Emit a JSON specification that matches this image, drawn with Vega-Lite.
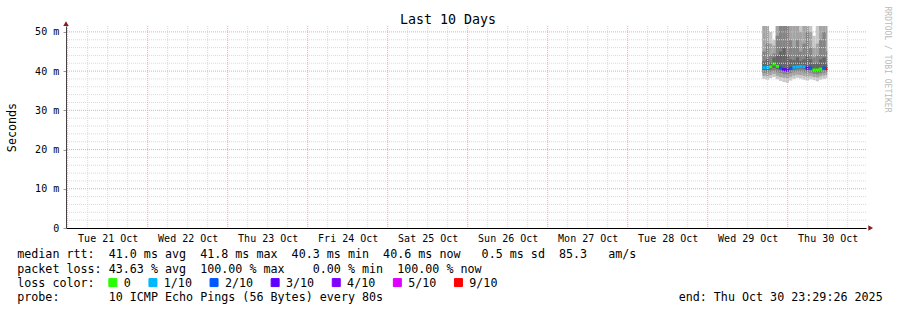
{
  "$schema": "https://vega.github.io/schema/vega-lite/v6.json",
  "width": 800,
  "height": 202,
  "autosize": {"type": "none"},
  "padding": {"left": 66, "top": 26, "right": 31, "bottom": 82},
  "background": "#ffffff",
  "view": {"stroke": null},
  "title": {"text": "Last 10 Days", "font": "DejaVu Sans Mono", "fontSize": 13.3, "fontWeight": "normal", "color": "#000000", "anchor": "middle", "frame": "group", "dx": -18, "offset": -31, "baseline": "alphabetic"},
  "datasets": {
    "smoke": [
      {"t0":"2025-10-29T16:24:00Z","t1":"2025-10-29T17:24:00Z","med":40.9,"loss":"1/10","p1":38.0,"p2":38.8,"p3":39.6,"p4":40.3,"p5":40.6,"p6":41.2,"p7":42.5,"p8":45,"p9":52,"p10":70},
      {"t0":"2025-10-29T17:24:00Z","t1":"2025-10-29T18:24:00Z","med":40.9,"loss":"1/10","p1":37.8,"p2":38.7,"p3":39.5,"p4":40.2,"p5":40.6,"p6":41.2,"p7":43,"p8":47,"p9":55,"p10":75},
      {"t0":"2025-10-29T18:24:00Z","t1":"2025-10-29T19:24:00Z","med":41.1,"loss":"0","p1":38.2,"p2":39.0,"p3":39.8,"p4":40.4,"p5":40.8,"p6":41.4,"p7":42.2,"p8":44,"p9":47,"p10":50},
      {"t0":"2025-10-29T19:24:00Z","t1":"2025-10-29T20:24:00Z","med":41.8,"loss":"0","p1":38.5,"p2":39.3,"p3":40.0,"p4":40.8,"p5":41.5,"p6":42.1,"p7":43.5,"p8":44.5,"p9":46.5,"p10":48},
      {"t0":"2025-10-29T20:24:00Z","t1":"2025-10-29T21:24:00Z","med":41.2,"loss":"0","p1":37.9,"p2":38.8,"p3":39.7,"p4":40.5,"p5":40.9,"p6":41.5,"p7":44,"p8":49,"p9":56,"p10":72},
      {"t0":"2025-10-29T21:24:00Z","t1":"2025-10-29T22:24:00Z","med":40.8,"loss":"2/10","p1":37.5,"p2":38.5,"p3":39.5,"p4":40.2,"p5":40.5,"p6":41.1,"p7":45,"p8":52,"p9":60,"p10":80},
      {"t0":"2025-10-29T22:24:00Z","t1":"2025-10-29T23:24:00Z","med":40.4,"loss":"3/10","p1":37.2,"p2":38.3,"p3":39.2,"p4":39.9,"p5":40.1,"p6":40.7,"p7":46,"p8":55,"p9":65,"p10":85},
      {"t0":"2025-10-29T23:24:00Z","t1":"2025-10-30T00:24:00Z","med":40.3,"loss":"3/10","p1":37.0,"p2":38.2,"p3":39.1,"p4":39.8,"p5":40.0,"p6":40.6,"p7":44,"p8":52,"p9":62,"p10":80},
      {"t0":"2025-10-30T00:24:00Z","t1":"2025-10-30T01:24:00Z","med":40.7,"loss":"2/10","p1":37.6,"p2":38.6,"p3":39.5,"p4":40.2,"p5":40.4,"p6":41.0,"p7":43,"p8":48,"p9":58,"p10":75},
      {"t0":"2025-10-30T01:24:00Z","t1":"2025-10-30T02:24:00Z","med":41.0,"loss":"1/10","p1":38.0,"p2":38.9,"p3":39.7,"p4":40.4,"p5":40.7,"p6":41.3,"p7":42.8,"p8":46,"p9":54,"p10":70},
      {"t0":"2025-10-30T02:24:00Z","t1":"2025-10-30T03:24:00Z","med":41.1,"loss":"1/10","p1":38.3,"p2":39.1,"p3":39.9,"p4":40.6,"p5":40.8,"p6":41.4,"p7":43.5,"p8":48,"p9":57,"p10":74},
      {"t0":"2025-10-30T03:24:00Z","t1":"2025-10-30T04:24:00Z","med":41.2,"loss":"1/10","p1":38.1,"p2":39.0,"p3":39.9,"p4":40.7,"p5":40.9,"p6":41.5,"p7":42.6,"p8":45,"p9":50,"p10":62},
      {"t0":"2025-10-30T04:24:00Z","t1":"2025-10-30T05:24:00Z","med":41.1,"loss":"1/10","p1":37.8,"p2":38.8,"p3":39.7,"p4":40.5,"p5":40.8,"p6":41.4,"p7":43,"p8":47,"p9":53,"p10":66},
      {"t0":"2025-10-30T05:24:00Z","t1":"2025-10-30T06:24:00Z","med":40.8,"loss":"3/10","p1":37.6,"p2":38.6,"p3":39.5,"p4":40.2,"p5":40.5,"p6":41.1,"p7":44,"p8":50,"p9":58,"p10":70},
      {"t0":"2025-10-30T06:24:00Z","t1":"2025-10-30T07:24:00Z","med":40.8,"loss":"2/10","p1":37.9,"p2":38.8,"p3":39.6,"p4":40.3,"p5":40.5,"p6":41.1,"p7":43,"p8":46,"p9":50,"p10":55},
      {"t0":"2025-10-30T07:24:00Z","t1":"2025-10-30T08:24:00Z","med":40.3,"loss":"0","p1":37.7,"p2":38.5,"p3":39.3,"p4":39.9,"p5":40.0,"p6":40.6,"p7":41.8,"p8":43.5,"p9":46,"p10":49},
      {"t0":"2025-10-30T08:24:00Z","t1":"2025-10-30T09:24:00Z","med":40.3,"loss":"0","p1":37.4,"p2":38.4,"p3":39.2,"p4":39.8,"p5":40.0,"p6":40.6,"p7":42,"p8":44,"p9":47,"p10":53},
      {"t0":"2025-10-30T09:24:00Z","t1":"2025-10-30T10:24:00Z","med":40.5,"loss":"0","p1":37.8,"p2":38.7,"p3":39.4,"p4":40.0,"p5":40.2,"p6":40.8,"p7":43,"p8":48,"p9":56,"p10":70},
      {"t0":"2025-10-30T10:24:00Z","t1":"2025-10-30T11:24:00Z","med":40.8,"loss":"2/10","p1":38.0,"p2":38.9,"p3":39.6,"p4":40.3,"p5":40.5,"p6":41.1,"p7":43.5,"p8":50,"p9":60,"p10":78},
      {"t0":"2025-10-30T11:24:00Z","t1":"2025-10-30T11:54:00Z","med":40.6,"loss":"9/10","p1":38.2,"p2":39.0,"p3":39.8,"p4":40.3,"p5":40.4,"p6":40.8,"p7":42,"p8":45,"p9":52,"p10":65}
    ],
    "xminor": [
      {"t":"2025-10-21T06:00:00Z"},{"t":"2025-10-21T12:00:00Z"},{"t":"2025-10-21T18:00:00Z"},
      {"t":"2025-10-22T06:00:00Z"},{"t":"2025-10-22T12:00:00Z"},{"t":"2025-10-22T18:00:00Z"},
      {"t":"2025-10-23T06:00:00Z"},{"t":"2025-10-23T12:00:00Z"},{"t":"2025-10-23T18:00:00Z"},
      {"t":"2025-10-24T06:00:00Z"},{"t":"2025-10-24T12:00:00Z"},{"t":"2025-10-24T18:00:00Z"},
      {"t":"2025-10-25T06:00:00Z"},{"t":"2025-10-25T12:00:00Z"},{"t":"2025-10-25T18:00:00Z"},
      {"t":"2025-10-26T06:00:00Z"},{"t":"2025-10-26T12:00:00Z"},{"t":"2025-10-26T18:00:00Z"},
      {"t":"2025-10-27T06:00:00Z"},{"t":"2025-10-27T12:00:00Z"},{"t":"2025-10-27T18:00:00Z"},
      {"t":"2025-10-28T06:00:00Z"},{"t":"2025-10-28T12:00:00Z"},{"t":"2025-10-28T18:00:00Z"},
      {"t":"2025-10-29T06:00:00Z"},{"t":"2025-10-29T12:00:00Z"},{"t":"2025-10-29T18:00:00Z"},
      {"t":"2025-10-30T06:00:00Z"},{"t":"2025-10-30T12:00:00Z"},{"t":"2025-10-30T18:00:00Z"}
    ],
    "xmajor": [
      {"t":"2025-10-21T00:00:00Z"},{"t":"2025-10-22T00:00:00Z"},{"t":"2025-10-23T00:00:00Z"},{"t":"2025-10-24T00:00:00Z"},{"t":"2025-10-25T00:00:00Z"},
      {"t":"2025-10-26T00:00:00Z"},{"t":"2025-10-27T00:00:00Z"},{"t":"2025-10-28T00:00:00Z"},{"t":"2025-10-29T00:00:00Z"},{"t":"2025-10-30T00:00:00Z"}
    ],
    "yminor": [
      {"v":2},{"v":4},{"v":6},{"v":8},{"v":12},{"v":14},{"v":16},{"v":18},{"v":22},{"v":24},{"v":26},{"v":28},
      {"v":32},{"v":34},{"v":36},{"v":38},{"v":42},{"v":44},{"v":46},{"v":48}
    ],
    "ymajor": [{"v":10},{"v":20},{"v":30},{"v":40},{"v":50}]
  },
  "resolve": {"axis": {"y": "independent"}},
  "layer": [
    {
      "data": {"name": "smoke"},
      "mark": {"type": "rect", "color": "#c8c8c8", "clip": true},
      "encoding": {
        "x": {"field": "t0", "type": "temporal",
          "scale": {"type": "utc", "domain": [1761002966000, 1761866966000]},
          "axis": {
            "values": [1761048000000, 1761134400000, 1761220800000, 1761307200000, 1761393600000, 1761480000000, 1761566400000, 1761652800000, 1761739200000, 1761825600000],
            "grid": false,
            "ticks": false,
            "domainColor": "#000000",
            "labelExpr": "utcFormat(datum.value, '%a %d %b')",
            "labelFont": "DejaVu Sans Mono", "labelFontSize": 10, "labelColor": "#000000",
            "labelBaseline": "alphabetic", "labelPadding": 13.5, "labelAlign": "center",
            "labelOverlap": false, "labelFlush": false, "labelBound": false,
            "title": ["median rtt:\u00a0\u00a041.0 ms avg\u00a0\u00a041.8 ms max\u00a0\u00a040.3 ms min\u00a0\u00a040.6 ms now\u00a0\u00a0\u00a00.5 ms sd\u00a0\u00a085.3\u00a0\u00a0\u00a0am/s", "packet loss: 43.63 % avg\u00a0\u00a0100.00 % max\u00a0\u00a0\u00a0\u00a00.00 % min\u00a0\u00a0100.00 % now", "loss color:", "probe:\u00a0\u00a0\u00a0\u00a0\u00a0\u00a0\u00a010 ICMP Echo Pings (56 Bytes) every 80s\u00a0\u00a0\u00a0\u00a0\u00a0\u00a0\u00a0\u00a0\u00a0\u00a0\u00a0\u00a0\u00a0\u00a0\u00a0\u00a0\u00a0\u00a0\u00a0\u00a0\u00a0\u00a0\u00a0\u00a0\u00a0\u00a0\u00a0\u00a0\u00a0\u00a0\u00a0\u00a0\u00a0\u00a0\u00a0\u00a0\u00a0\u00a0\u00a0\u00a0\u00a0\u00a0end: Thu Oct 30 23:29:26 2025"],
            "titleFont": "DejaVu Sans Mono", "titleFontSize": 11.7, "titleFontWeight": "normal", "titleColor": "#000000",
            "titleAlign": "left", "titleAnchor": "start", "titleX": -49.3, "titleY": 29.7, "titleBaseline": "alphabetic", "titleLineHeight": 14.4
          }
        },
        "x2": {"field": "t1"},
        "y": {"field": "p1", "type": "quantitative",
          "scale": {"domain": [0, 51.5], "nice": false, "zero": false},
          "axis": {
            "values": [0, 10, 20, 30, 40, 50],
            "grid": false,
            "ticks": true, "tickSize": 3, "tickColor": "#999999",
            "domainColor": "#444444",
            "labelExpr": "datum.value == 0 ? '0\u00a0\u00a0' : (datum.value + '\u00a0m')",
            "labelFont": "DejaVu Sans Mono", "labelFontSize": 10, "labelColor": "#000000",
            "labelAlign": "right", "labelBaseline": "middle", "labelPadding": 4.3,
            "labelOverlap": false, "labelFlush": false, "labelBound": false,
            "title": "Seconds",
            "titleFont": "DejaVu Sans Mono", "titleFontSize": 11.7, "titleFontWeight": "normal", "titleColor": "#000000",
            "titleAngle": 270, "titleBaseline": "alphabetic", "titleAlign": "center", "titleX": -50.5, "titleY": 101
          }
        },
        "y2": {"field": "p10"}
      }
    },
    {
      "data": {"name": "smoke"},
      "mark": {"type": "rect", "color": "#a4a4a4", "clip": true},
      "encoding": {
        "x": {"field": "t0", "type": "temporal"},
        "x2": {"field": "t1"},
        "y": {"field": "p2", "type": "quantitative", "axis": null},
        "y2": {"field": "p9"}
      }
    },
    {
      "data": {"name": "smoke"},
      "mark": {"type": "rect", "color": "#848484", "clip": true},
      "encoding": {
        "x": {"field": "t0", "type": "temporal"},
        "x2": {"field": "t1"},
        "y": {"field": "p3", "type": "quantitative", "axis": null},
        "y2": {"field": "p8"}
      }
    },
    {
      "data": {"name": "smoke"},
      "mark": {"type": "rect", "color": "#646464", "clip": true},
      "encoding": {
        "x": {"field": "t0", "type": "temporal"},
        "x2": {"field": "t1"},
        "y": {"field": "p4", "type": "quantitative", "axis": null},
        "y2": {"field": "p7"}
      }
    },
    {
      "data": {"name": "smoke"},
      "mark": {"type": "rect", "color": "#444444", "clip": true},
      "encoding": {
        "x": {"field": "t0", "type": "temporal"},
        "x2": {"field": "t1"},
        "y": {"field": "p5", "type": "quantitative", "axis": null},
        "y2": {"field": "p6"}
      }
    },
    {
      "data": {"name": "smoke"},
      "mark": {"type": "rule", "strokeWidth": 3},
      "encoding": {
        "x": {"field": "t0", "type": "temporal"},
        "x2": {"field": "t1"},
        "y": {"field": "med", "type": "quantitative",
          "axis": {"orient": "right", "title": "RRDTOOL / TOBI OETIKER", "labels": false, "ticks": false, "domain": false, "grid": false,
            "titleFont": "DejaVu Sans Mono", "titleFontSize": 8, "titleColor": "#bbbbbb", "titleFontWeight": "normal",
            "titleAngle": 90, "titleX": 20, "titleY": 33, "titleAlign": "center", "titleBaseline": "middle"}},
        "color": {"field": "loss", "type": "nominal",
          "scale": {"domain": ["0", "1/10", "2/10", "3/10", "4/10", "5/10", "9/10"], "range": ["#26ff00", "#00b8ff", "#0059ff", "#5e00ff", "#7e00ff", "#dd00ff", "#ff0000"]},
          "legend": {"title": null, "orient": "none", "legendX": 41, "legendY": 250.5, "direction": "horizontal", "padding": 0,
            "symbolType": "square", "symbolSize": 64, "symbolStrokeWidth": 1, "symbolStrokeColor": "#000000",
            "labelFont": "DejaVu Sans Mono", "labelFontSize": 11.7, "labelColor": "#000000", "labelOffset": 5, "columnPadding": 15.1,
            "encode": {"symbols": {"update": {"fill": {"scale": "color", "field": "value"}, "stroke": {"value": "#000000"}, "strokeWidth": {"value": 1}}}}}
        }
      }
    },
    {
      "data": {"name": "xminor"},
      "mark": {"type": "rule", "color": "#dadada", "strokeWidth": 1, "strokeDash": [1, 1]},
      "encoding": {"x": {"field": "t", "type": "temporal"}}
    },
    {
      "data": {"name": "yminor"},
      "mark": {"type": "rule", "color": "#dadada", "strokeWidth": 1, "strokeDash": [1, 1]},
      "encoding": {"y": {"field": "v", "type": "quantitative", "axis": null}}
    },
    {
      "data": {"name": "xmajor"},
      "mark": {"type": "rule", "color": "#eeaaaa", "strokeWidth": 1, "strokeDash": [1, 1]},
      "encoding": {"x": {"field": "t", "type": "temporal"}}
    },
    {
      "data": {"name": "ymajor"},
      "mark": {"type": "rule", "color": "#eeaaaa", "strokeWidth": 1, "strokeDash": [1, 1]},
      "encoding": {"y": {"field": "v", "type": "quantitative", "axis": null}}
    },
    {
      "data": {"values": [{}]},
      "mark": {"type": "point", "shape": "triangle-up", "filled": true, "color": "#8b1a1a", "size": 30, "opacity": 1},
      "encoding": {
        "x": {"datum": 1761002966000, "type": "temporal"},
        "y": {"datum": 52.1, "type": "quantitative", "axis": null}
      }
    },
    {
      "data": {"values": [{}]},
      "mark": {"type": "point", "shape": "triangle-right", "filled": true, "color": "#8b1a1a", "size": 30, "opacity": 1},
      "encoding": {
        "x": {"datum": 1761872040000, "type": "temporal"},
        "y": {"datum": 0, "type": "quantitative", "axis": null}
      }
    }
  ]
}
